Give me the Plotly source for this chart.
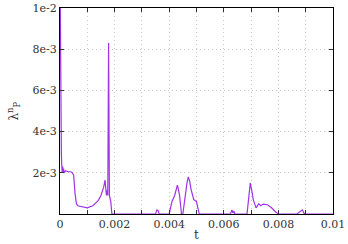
import plotly.graph_objects as go

t_vals = [0.0, 0.00002, 0.00003, 0.00004, 0.00005, 0.00006, 0.00007, 0.00008, 0.0001, 0.00011,
          0.00013, 0.00015, 0.0002, 0.0003, 0.0004, 0.00045, 0.0005, 0.00055, 0.0006, 0.00065,
          0.0008, 0.001, 0.0012, 0.0014, 0.0015, 0.0016, 0.00165, 0.00169, 0.0017, 0.00172,
          0.00175, 0.00178, 0.00181, 0.00186, 0.0019, 0.0035, 0.00355, 0.0036, 0.00363, 0.0040,
          0.0041, 0.0042, 0.0043, 0.00432, 0.00438, 0.00445, 0.0045, 0.00465, 0.0047, 0.00475,
          0.0048, 0.0049, 0.005, 0.0051, 0.00624, 0.0063, 0.00633, 0.00637, 0.0064, 0.00685,
          0.0069, 0.00697, 0.00703, 0.00708, 0.00718, 0.00728, 0.00735, 0.00745, 0.0076, 0.00775,
          0.0079, 0.008, 0.00868, 0.0088, 0.00888, 0.00893, 0.009, 0.01]
lam_vals = [0.012, 0.0047, 0.0038, 0.0043, 0.003, 0.0025, 0.0021, 0.002, 0.0023, 0.002,
            0.0022, 0.002, 0.0021, 0.00205, 0.00205, 0.002, 0.0019, 0.001, 0.0005, 0.0004,
            0.00035, 0.0003, 0.0004, 0.00065, 0.0009, 0.0013, 0.00165, 0.0011, 0.0009, 0.00115,
            0.0009, 0.0083, 0.0009, 0.0006, 0.0, 0.0, 0.0002, 0.00015, 0.0, 0.0,
            0.0006, 0.0009, 0.0014, 0.0013, 0.0009, 0.0, 0.0, 0.0015, 0.0018, 0.0016,
            0.0012, 0.0007, 0.0006, 0.0, 0.0, 0.0002, 0.00005, 0.00015, 0.0, 0.0,
            0.0008, 0.0015, 0.0011, 0.0007, 0.0003, 0.0005, 0.0004, 0.00048, 0.00045, 0.0003,
            0.0001, 0.0, 0.0, 0.00015, 0.0002, 0.00005, 0.0, 0.0]

x_tickvals = [0, 0.002, 0.004, 0.006, 0.008, 0.01]
x_ticktext = ["0", "0.002", "0.004", "0.006", "0.008", "0.01"]
y_tickvals = [0.002, 0.004, 0.006, 0.008, 0.01]
y_ticktext = ["2e-3", "4e-3", "6e-3", "8e-3", "1e-2"]

fig = go.Figure()
fig.add_trace(go.Scatter(x=t_vals, y=lam_vals, mode="lines",
                         line=dict(color="#a033e6", width=1.2), showlegend=False))

serif = "DejaVu Serif"
font = dict(family=serif, size=11, color="#333")
grid_dash = "1px,3px"
fig.update_layout(
    width=348, height=244, autosize=False,
    margin=dict(l=60, r=15, t=8, b=30, autoexpand=False),
    paper_bgcolor="white", plot_bgcolor="white",
    font=font,
    xaxis=dict(range=[0, 0.01], tickvals=x_tickvals, ticktext=x_ticktext,
               ticks="inside", ticklen=4, tickcolor="#333", mirror="allticks",
               showline=True, linecolor="black", linewidth=1, automargin=False,
               showgrid=True, gridcolor="#c8c8c8", griddash=grid_dash, gridwidth=1,
               minor=dict(dtick=0.001, tick0=0, ticks="inside", ticklen=4, tickcolor="#333",
                          showgrid=True, gridcolor="#c8c8c8", griddash=grid_dash),
               zeroline=False, tickfont=font),
    yaxis=dict(range=[0, 0.01], tickvals=y_tickvals, ticktext=y_ticktext,
               ticks="inside", ticklen=4, tickcolor="#333", mirror="allticks",
               showline=True, linecolor="black", linewidth=1, automargin=False,
               showgrid=True, gridcolor="#c8c8c8", griddash=grid_dash, gridwidth=1,
               zeroline=False, tickfont=font),
    annotations=[
        dict(text="t", xref="paper", yref="paper", x=0.5, y=-0.102, xanchor="center",
             yanchor="middle", showarrow=False, font=dict(family=serif, size=12, color="#333")),
        dict(text="λ<sup>n</sup><sub>P</sub>", xref="paper", yref="paper", x=-0.17, y=0.5,
             xanchor="center", yanchor="middle", textangle=-90, showarrow=False,
             font=dict(family=serif, size=12, color="#333")),
    ],
)
fig.write_html("out.html", config={"displayModeBar": False},
               post_script="document.body.style.margin='0';")
